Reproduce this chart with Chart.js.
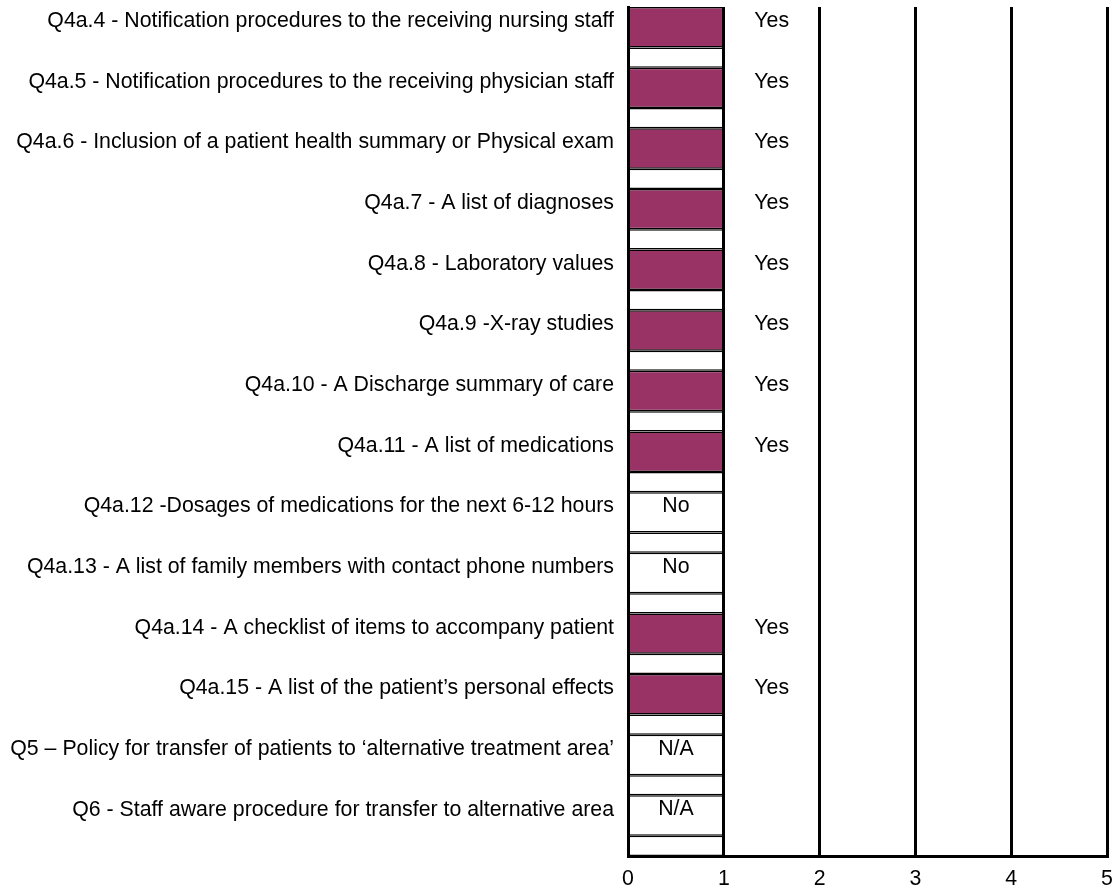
<!DOCTYPE html>
<html>
<head>
<meta charset="utf-8">
<script src="https://cdn.jsdelivr.net/npm/chart.js@4/dist/chart.umd.min.js"></script>
<style>
  html, body { margin: 0; padding: 0; background: #ffffff; }
  #wrap { width: 1112px; height: 893px; }
</style>
</head>
<body>
<div id="wrap"><canvas id="chart" width="1112" height="893"></canvas></div>
<script>
// Checklist items, top to bottom
const questions = [
  "Q4a.4 - Notification procedures to the receiving nursing staff",
  "Q4a.5 - Notification procedures to the receiving physician staff",
  "Q4a.6 - Inclusion of a patient health summary or Physical exam",
  "Q4a.7 - A list of diagnoses",
  "Q4a.8 - Laboratory values",
  "Q4a.9 -X-ray studies",
  "Q4a.10 - A Discharge summary of care",
  "Q4a.11 - A list of medications",
  "Q4a.12 -Dosages of medications for the next 6-12 hours",
  "Q4a.13 - A list of family members with contact phone numbers",
  "Q4a.14 - A checklist of items to accompany patient",
  "Q4a.15 - A list of the patient\u2019s personal effects",
  "Q5 \u2013 Policy for transfer of patients to \u2018alternative treatment area\u2019",
  "Q6 - Staff aware procedure for transfer to alternative area"
];

// Response recorded for each item
const answers = ["Yes", "Yes", "Yes", "Yes", "Yes", "Yes", "Yes", "Yes", "No", "No", "Yes", "Yes", "N/A", "N/A"];

// Response bar (one unit per item) and the blank row under it
const responseValues = [1, 1, 1, 1, 1, 1, 1, 1, 1, 1, 1, 1, 1, 1];
const spacerValues   = [1, 1, 1, 1, 1, 1, 1, 1, 1, 1, 1, 1, 1, 1];

// Scale ticks along the bottom
const xTickValues = [0, 1, 2, 3, 4, 5];

const PLUM = "#993366";
const FONT = "'Liberation Sans', Arial, sans-serif";
const FONT_SIZE = 21.3;

const answerLabels = {
  id: "answerLabels",
  afterDatasetsDraw(chart) {
    const ctx = chart.ctx;
    const xs = chart.scales.x;
    const meta = chart.getDatasetMeta(0);
    ctx.save();
    ctx.font = FONT_SIZE + "px " + FONT;
    ctx.fillStyle = "#000";
    ctx.textAlign = "center";
    ctx.textBaseline = "middle";
    meta.data.forEach((bar, i) => {
      const a = answers[i];
      const x = a === "Yes" ? xs.getPixelForValue(1.5) : xs.getPixelForValue(0.5);
      ctx.fillText(a, x, bar.y - 6);
    });
    ctx.restore();
  }
};

new Chart(document.getElementById("chart"), {
  type: "bar",
  data: {
    labels: questions,
    datasets: [
      {
        label: "Response",
        data: responseValues,
        backgroundColor: answers.map(a => a === "Yes" ? PLUM : "#ffffff"),
        borderColor: "#000000",
        borderWidth: { top: 1.5, bottom: 1.5, left: 0, right: 0 },
        borderSkipped: false,
        categoryPercentage: 2 / 3,
        barPercentage: 2
      },
      {
        label: "Spacer",
        data: spacerValues,
        backgroundColor: "#ffffff",
        borderColor: "#000000",
        borderWidth: { top: 1.5, bottom: 1.5, left: 0, right: 0 },
        borderSkipped: false,
        categoryPercentage: 4 / 3,
        barPercentage: 0.5
      }
    ]
  },
  options: {
    indexAxis: "y",
    responsive: false,
    animation: false,
    devicePixelRatio: 1,
    layout: { padding: { top: 7, right: 5, left: 0, bottom: 0 } },
    plugins: {
      legend: { display: false },
      tooltip: { enabled: false }
    },
    scales: {
      x: {
        type: "linear",
        min: xTickValues[0],
        max: xTickValues[xTickValues.length - 1],
        afterBuildTicks(scale) {
          scale.ticks = xTickValues.map(v => ({ value: v }));
        },
        afterFit(scale) {
          scale.height = 37;
          scale.paddingLeft = 0;
          scale.paddingRight = 0;
        },
        grid: { color: "#000", lineWidth: 3, drawTicks: false, z: 1 },
        border: { color: "#000", width: 3, z: 1 },
        ticks: { color: "#000", font: { family: FONT, size: FONT_SIZE }, padding: 10 }
      },
      y: {
        type: "category",
        afterFit(scale) {
          scale.width = 628;
          scale.paddingTop = 0;
          scale.paddingBottom = 0;
        },
        grid: { display: false, drawTicks: false },
        border: { color: "#000", width: 3, z: 1 },
        ticks: {
          autoSkip: false,
          color: "#000",
          font: { family: FONT, size: FONT_SIZE },
          padding: 14,
          labelOffset: -16
        }
      }
    }
  },
  plugins: [answerLabels]
});
</script>
</body>
</html>
